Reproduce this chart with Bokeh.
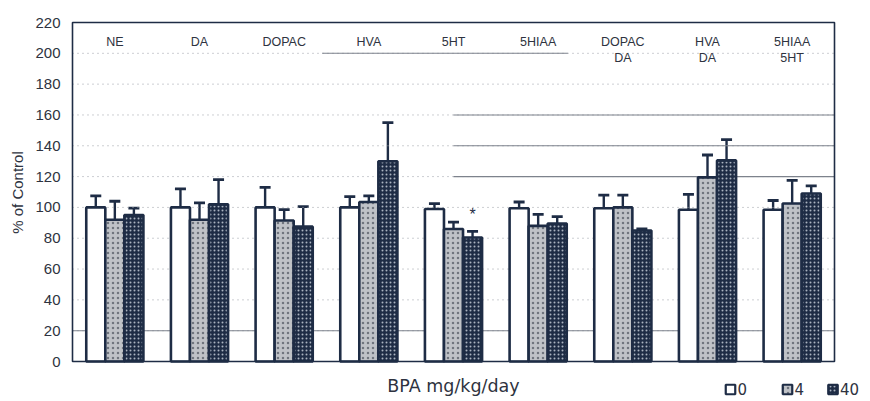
import numpy as np
from bokeh.plotting import figure
from bokeh.models import ColumnDataSource, Range1d, Whisker, TeeHead
from bokeh.core.properties import value
from bokeh.embed import file_html
from bokeh.resources import INLINE

# Analytes / ratios along the x axis (labels are drawn inside the plot, top)
categories = ["NE", "DA", "DOPAC", "HVA", "5HT", "5HIAA",
              "DOPAC\nDA", "HVA\nDA", "5HIAA\n5HT"]

# BPA dose groups (mg/kg/day)
doses = ["0", "4", "40"]

# Mean % of control for each dose group
mean_0 = [100, 100, 100, 100, 99, 99.5, 99.5, 98.5, 98.5]
mean_4 = [92, 92, 91.5, 103.5, 86, 88, 100, 119.5, 102.5]
mean_40 = [95, 102, 87.5, 130, 80.5, 89.5, 85, 130.5, 109]

# Upper error (SEM) for each dose group
err_0 = [7.5, 12, 13, 7, 3.5, 4, 8.5, 10, 6]
err_4 = [12, 11, 7, 4, 4.5, 7.5, 8, 14.5, 15]
err_40 = [4.5, 16, 13, 25, 4, 4.5, 1, 13.5, 5]

# Significant difference vs. control (group, dose)
significant = [("5HT", "40")]

y_ticks = [0, 20, 40, 60, 80, 100, 120, 140, 160, 180, 200, 220]
y_max = 220

# solid rules: (y level, from group, to group); None = plot edge,
# a group given as "from" with no "to" starts at that group's centre
rules = [(200, "HVA", "5HIAA"), (160, "5HT", None), (140, "5HT", None),
         (120, "5HT", None), (20, None, None)]

INK = "#1e2c45"
TEXT = "#2e3340"
FONT = "Liberation Sans"
WIDE_FONT = "DejaVu Sans"
W, H = 870, 401

# plot box in page pixels: left, right, top, bottom
BOX_L, BOX_R, BOX_T, BOX_B = 72, 834, 22, 361

n = len(categories)
px_x = (BOX_R - BOX_L) / n
px_y = (BOX_B - BOX_T) / y_max


def dx(px):
    return (px - BOX_L) / px_x


def dy(py):
    return (BOX_B - py) / px_y


centers = np.arange(n) + 0.5
bar_w = 0.225
offsets = [-bar_w, 0.0, bar_w]

# the frame covers the whole page so that the titles and key below the box are drawn too
p = figure(width=W, height=H, output_backend="svg", toolbar_location=None,
           x_range=Range1d(dx(0), dx(W)), y_range=Range1d(dy(H), dy(0)),
           x_axis_location=None, y_axis_location=None, min_border=0,
           outline_line_color=None)
p.grid.visible = False
p.background_fill_color = "white"
p.border_fill_color = "white"

# dotted horizontal grid inside the box
grid_y = [t for t in y_ticks if 0 < t < y_max]
p.segment(x0=[0] * len(grid_y), x1=[n] * len(grid_y), y0=grid_y, y1=grid_y,
          line_color="#9a9ea6", line_dash="1 4", line_width=1)

# solid rule segments across part of the plot
rx0, rx1, ry = [], [], []
for y, first, last in rules:
    if first is None:
        x0, x1 = 0.0, float(n)
    elif last is None:
        x0, x1 = centers[categories.index(first)], float(n)
    else:
        x0 = categories.index(first) - 0.05
        x1 = categories.index(last) + 0.85
    rx0.append(x0)
    rx1.append(x1)
    ry.append(y)
p.segment(x0=rx0, x1=rx1, y0=ry, y1=ry, line_color="#7d828c", line_width=1.1)

styles = [
    dict(fill_color="white", hatch_pattern=None),
    dict(fill_color="#bfc2c7", hatch_pattern="dot", hatch_color="#6f747d",
         hatch_scale=5, hatch_weight=1.3),
    dict(fill_color=INK, hatch_pattern="dot", hatch_color="#aab3c0",
         hatch_scale=4, hatch_weight=1.2),
]
means = [mean_0, mean_4, mean_40]
errs = [err_0, err_4, err_40]


def bar_style(st, width):
    kw = dict(fill_color=st["fill_color"], line_color=INK, line_width=width)
    if st["hatch_pattern"]:
        kw.update(hatch_pattern=st["hatch_pattern"], hatch_color=st["hatch_color"],
                  hatch_scale=st["hatch_scale"], hatch_weight=st["hatch_weight"])
    return kw


for k, dose in enumerate(doses):
    src = ColumnDataSource(dict(
        x=centers + offsets[k],
        top=means[k],
        upper=np.array(means[k]) + np.array(errs[k]),
    ))
    # error bars drawn first so the bars sit on top of the stems
    w = Whisker(source=src, base="x", upper="upper", lower="top",
                dimension="height", line_color=INK, line_width=2.4,
                upper_head=TeeHead(size=11, line_color=INK, line_width=2.8),
                lower_head=None, level="underlay")
    p.add_layout(w)
    p.vbar(x="x", top="top", width=bar_w, bottom=0, source=src,
           **bar_style(styles[k], 2.6))

# plot box
p.quad(left=[0], right=[n], bottom=[0], top=[y_max], fill_color=None,
       line_color=INK, line_width=1.6)

# group labels inside the top of the plot
p.text(x=centers, y=[212] * n, text=categories, text_align="center",
       text_baseline="top", text_font=value(FONT), text_font_size="12.5px",
       text_color=TEXT, text_line_height=1.15)

# significance marker
for cat, dose in significant:
    i = categories.index(cat)
    k = doses.index(dose)
    p.text(x=[centers[i] + offsets[k]], y=[means[k][i] + errs[k][i] + 11],
           text=["*"], text_align="center", text_baseline="middle",
           text_font=value(FONT), text_font_size="16px", text_color=INK)

# y tick labels and title
p.text(x=[dx(BOX_L - 12)] * len(y_ticks), y=y_ticks, text=[str(t) for t in y_ticks],
       text_align="right", text_baseline="middle", text_font=value(FONT),
       text_font_size="15px", text_color=TEXT)
p.text(x=[dx(17)], y=[dy(192)], text=["% of Control"], angle=np.pi / 2,
       text_align="center", text_baseline="middle", text_font=value(FONT),
       text_font_size="15px", text_color=TEXT)

# x title
p.text(x=[n / 2], y=[dy(385)], text=["BPA mg/kg/day"], text_align="center",
       text_baseline="middle", text_font=value(WIDE_FONT), text_font_size="17.5px",
       text_color=TEXT)

# dose key, bottom right
key_px = [730, 787, 832.5]
key_py = 389
for k, dose in enumerate(doses):
    p.rect(x=[dx(key_px[k])], y=[dy(key_py)], width=9.5, height=9.5,
           width_units="screen", height_units="screen", **bar_style(styles[k], 2.2))
    p.text(x=[dx(key_px[k] + 7)], y=[dy(key_py - 0.5)], text=[dose], text_align="left",
           text_baseline="middle", text_font=value(WIDE_FONT), text_font_size="15px",
           text_color=TEXT)

open("out.html", "w").write(file_html(p, INLINE))
